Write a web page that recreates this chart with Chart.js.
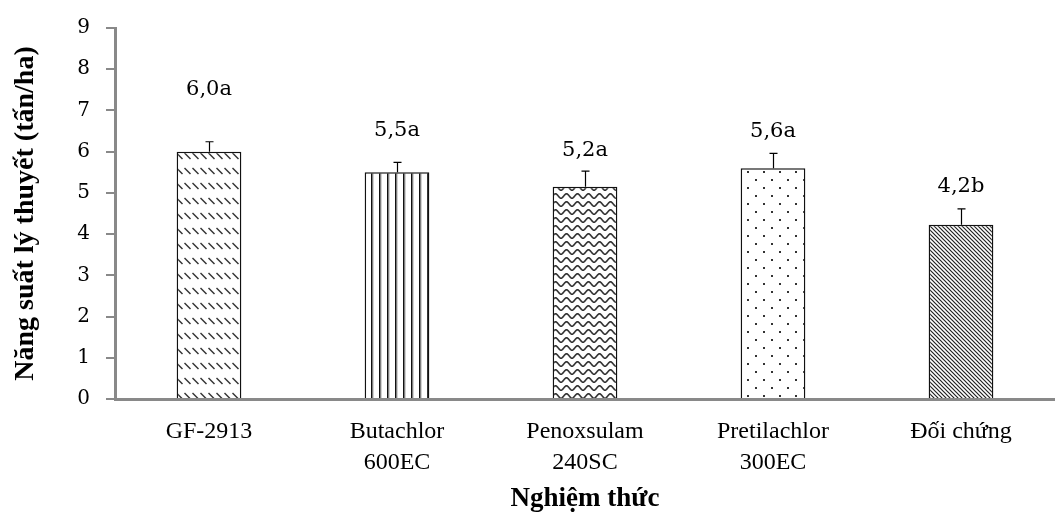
<!DOCTYPE html>
<html>
<head>
<meta charset="utf-8">
<script src="https://cdn.jsdelivr.net/npm/chart.js@4.4.1/dist/chart.umd.min.js"></script>
<style>
  html, body { margin: 0; padding: 0; background: #fff; }
  #wrap { width: 1055px; height: 515px; position: relative; }
</style>
</head>
<body>
<div id="wrap"><canvas id="c"></canvas></div>
<script>
// ---- data ----
const categories = [['GF-2913'], ['Butachlor', '600EC'], ['Penoxsulam', '240SC'], ['Pretilachlor', '300EC'], ['Đối chứng']];
const yieldValues = [6.0, 5.5, 5.15, 5.6, 4.23];
const errorValues = [0.24, 0.24, 0.38, 0.36, 0.38];
const valueLabels = ['6,0a', '5,5a', '5,2a', '5,6a', '4,2b'];
const labelHeights = [7.51, 6.51, 6.02, 6.5, 5.15];
const yTicks = [0, 1, 2, 3, 4, 5, 6, 7, 8, 9];

// ---- patterns ----
function makePattern(w, h, draw) {
  const c = document.createElement('canvas');
  c.width = w; c.height = h;
  const g = c.getContext('2d');
  g.fillStyle = '#fff';
  g.fillRect(0, 0, w, h);
  draw(g, w, h);
  return g.createPattern(c, 'repeat');
}
const patDashDiag = makePattern(8, 15, (g) => {
  g.strokeStyle = '#333'; g.lineWidth = 1.5;
  g.beginPath(); g.moveTo(0.5, 3); g.lineTo(6.5, 9); g.stroke();
});
const patVertical = makePattern(8, 8, (g) => {
  g.fillStyle = '#111'; g.fillRect(3, 0, 1.3, 8);
  g.fillStyle = '#666'; g.fillRect(4.3, 0, 1, 8);
});
const patWave = makePattern(11, 8, (g) => {
  g.strokeStyle = '#333'; g.lineWidth = 1.6;
  g.beginPath();
  for (let x = -1; x <= 12; x += 0.5) {
    const y = 4 + 2.2 * Math.cos(2 * Math.PI * x / 11);
    if (x === -1) g.moveTo(x, y); else g.lineTo(x, y);
  }
  g.stroke();
});
const patDots = makePattern(16, 16, (g) => {
  g.fillStyle = '#333';
  g.fillRect(3, 3, 2, 2);
  g.fillRect(11, 11, 2, 2);
});
const patStripes = makePattern(4, 4, (g) => {
  g.strokeStyle = '#222'; g.lineWidth = 1.2;
  g.beginPath();
  g.moveTo(-1, -1); g.lineTo(5, 5);
  g.moveTo(-1, 3); g.lineTo(1, 5);
  g.moveTo(3, -1); g.lineTo(5, 1);
  g.stroke();
});
const fills = [patDashDiag, patVertical, patWave, patDots, patStripes];

// ---- plugins ----
const errorBarPlugin = {
  id: 'errorBars',
  afterDatasetsDraw(chart) {
    const ctx = chart.ctx;
    const meta = chart.getDatasetMeta(0);
    const y = chart.scales.y;
    ctx.save();
    ctx.strokeStyle = '#000';
    ctx.lineWidth = 1.2;
    meta.data.forEach((bar, i) => {
      const v = yieldValues[i], e = errorValues[i];
      const yTop = y.getPixelForValue(v + e);
      const yBase = y.getPixelForValue(v);
      const x = Math.round(bar.x) + 0.5;
      ctx.beginPath();
      ctx.moveTo(x, yBase);
      ctx.lineTo(x, yTop);
      ctx.moveTo(x - 4, yTop);
      ctx.lineTo(x + 4, yTop);
      ctx.stroke();
    });
    ctx.restore();
  }
};
const labelPlugin = {
  id: 'valueLabels',
  afterDatasetsDraw(chart) {
    const ctx = chart.ctx;
    const meta = chart.getDatasetMeta(0);
    const y = chart.scales.y;
    ctx.save();
    ctx.fillStyle = '#000';
    ctx.font = '21px "DejaVu Serif", serif';
    ctx.textAlign = 'center';
    ctx.textBaseline = 'middle';
    meta.data.forEach((bar, i) => {
      ctx.fillText(valueLabels[i], bar.x, y.getPixelForValue(labelHeights[i]));
    });
    ctx.restore();
  }
};

new Chart(document.getElementById('c'), {
  type: 'bar',
  data: {
    labels: categories,
    datasets: [{
      data: yieldValues,
      backgroundColor: fills,
      borderColor: '#111',
      borderWidth: 1.5,
      borderSkipped: 'bottom',
      barPercentage: 0.344,
      categoryPercentage: 1.0
    }]
  },
  options: {
    responsive: true,
    maintainAspectRatio: false,
    animation: false,
    devicePixelRatio: 1,
    layout: { padding: { top: 20, right: 0, left: 0, bottom: 0 } },
    plugins: { legend: { display: false }, tooltip: { enabled: false } },
    scales: {
      x: {
        offset: true,
        grid: { display: false },
        border: { display: true, color: '#898989', width: 3 },
        ticks: {
          color: '#000',
          padding: 9,
          maxRotation: 0,
          autoSkip: false,
          font: { family: '"Liberation Serif", serif', size: 24, lineHeight: 1.3 }
        },
        title: {
          display: true,
          text: 'Nghiệm thức',
          color: '#000',
          font: { family: '"Liberation Serif", serif', size: 27, weight: 'bold' },
          padding: { top: 0, bottom: 0 }
        },
        afterFit(scale) { scale.height = 116; }
      },
      y: {
        min: 0,
        max: 9,
        afterBuildTicks(scale) { scale.ticks = yTicks.map(v => ({ value: v })); },
        grid: {
          display: true,
          drawOnChartArea: false,
          drawTicks: true,
          tickLength: 9,
          color: '#898989',
          lineWidth: 2
        },
        border: { display: true, color: '#898989', width: 3 },
        ticks: {
          color: '#000',
          padding: 16,
          font: { family: '"DejaVu Serif", serif', size: 20 }
        },
        title: {
          display: true,
          text: 'Năng suất lý thuyết (tấn/ha)',
          color: '#000',
          font: { family: '"Liberation Serif", serif', size: 28, weight: 'bold' },
          padding: { top: 9, bottom: 0 }
        },
        afterFit(scale) { scale.width = 115; }
      }
    }
  },
  plugins: [errorBarPlugin, labelPlugin]
});
</script>
</body>
</html>
